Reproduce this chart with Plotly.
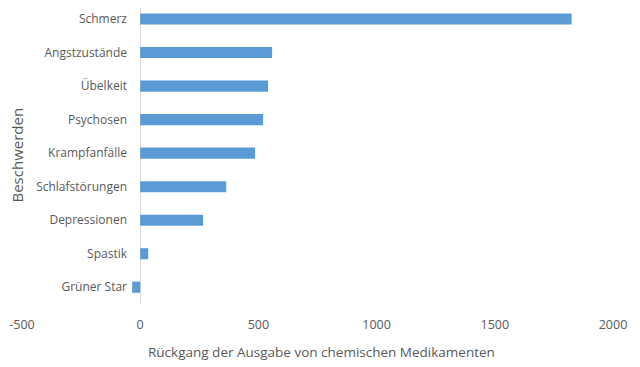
import plotly.graph_objects as go

categories = ["Schmerz", "Angstzustände", "Übelkeit", "Psychosen", "Krampfanfälle",
              "Schlafstörungen", "Depressionen", "Spastik", "Grüner Star"]
values = [1825, 558, 541, 520, 486, 364, 266, 34, -34]
x_ticks = [-500, 0, 500, 1000, 1500, 2000]

# page body has an 8px margin, so figure coords = screen coords - 8
W, H = 632, 359
L, R, T, B = 14, 27, 0, 63
plot_w = W - L - R
plot_h = H - T - B

font_family = "Open Sans, Noto Sans, sans-serif"
grey = "#595959"

fig = go.Figure(go.Bar(
    x=values, y=categories, orientation="h",
    marker=dict(color="#5b9bd5", line=dict(width=0)),
))

fig.update_layout(
    width=W, height=H,
    margin=dict(l=L, r=R, t=T, b=B, autoexpand=False),
    paper_bgcolor="white", plot_bgcolor="white",
    bargap=0.67,
    showlegend=False,
    font=dict(family=font_family, size=12, color=grey),
    xaxis=dict(
        range=[-500, 2000], tickvals=x_ticks, ticktext=[str(v) for v in x_ticks],
        showgrid=False, zeroline=True, zerolinecolor="#d9d9d9", zerolinewidth=1,
        showline=False, ticks="", ticklabelstandoff=11, automargin=False,
        tickfont=dict(size=12.5, color=grey),
    ),
    yaxis=dict(
        range=[8.5, -0.33], anchor="free", position=(133 - L) / plot_w,
        showgrid=False, zeroline=False, showline=False, ticks="",
        ticklabelstandoff=14, automargin=False,
        tickfont=dict(size=12, color=grey),
    ),
    annotations=[
        dict(text="Rückgang der Ausgabe von chemischen Medikamenten",
             xref="paper", yref="paper", x=(313 - L) / plot_w, y=-(344 - (H - B)) / plot_h,
             xanchor="center", yanchor="middle", showarrow=False,
             font=dict(size=13.5, color=grey)),
        dict(text="Beschwerden", textangle=-90,
             xref="paper", yref="paper", x=(8.5 - L) / plot_w, y=(H - B - 147) / plot_h,
             xanchor="center", yanchor="middle", showarrow=False,
             font=dict(size=15, color=grey)),
    ],
)

fig.write_html("out.html")
